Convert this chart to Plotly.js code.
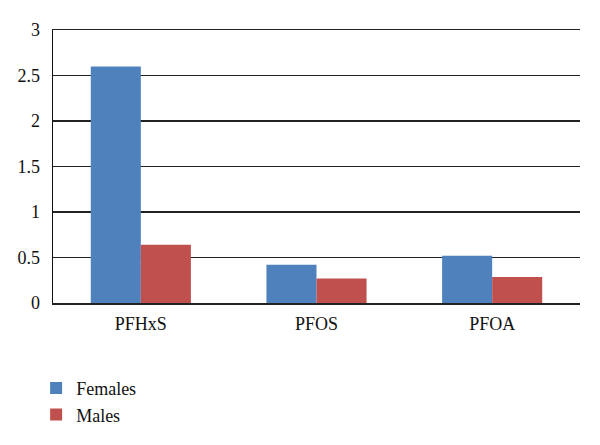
<!DOCTYPE html>
<html>
<head>
<meta charset="utf-8">
<script src="https://cdn.plot.ly/plotly-3.0.1.min.js"></script>
<style>
  body { margin: 0; background: #fff; }
  #chart { width: 600px; height: 445px; }
</style>
</head>
<body>
<div id="chart"></div>
<script>
// compounds on the x axis
const compounds = ["PFHxS", "PFOS", "PFOA"];

// values
const females = [2.60, 0.42, 0.52];
const males = [0.64, 0.27, 0.285];

const yTicks = [0, 0.5, 1, 1.5, 2, 2.5, 3];
const yTickText = ["0", "0.5", "1", "1.5", "2", "2.5", "3"];

const serif = "Liberation Serif, Times New Roman, serif";

let traces = [
    {
        type: "bar",
        name: "Females",
        x: compounds,
        y: females,
        marker: { color: "#4F81BD" }
    },
    {
        type: "bar",
        name: "Males",
        x: compounds,
        y: males,
        marker: { color: "#C0504D" }
    }
];

let layout = {
    width: 600,
    height: 445,
    margin: { l: 53, r: 20, t: 30, b: 138 },
    paper_bgcolor: "#fff",
    plot_bgcolor: "#fff",
    barmode: "group",
    bargap: 0.43,
    bargroupgap: 0,
    font: { family: serif, size: 17, color: "#111" },
    xaxis: {
        showline: true,
        mirror: true,   // top border stands in for the gridline at 3
        linecolor: "#222",
        linewidth: 1.5,
        ticks: "",
        ticklabelstandoff: 4,
        tickfont: { family: serif, size: 18, color: "#111" },
        showgrid: false
    },
    yaxis: {
        range: [0, 3],
        tickvals: yTicks,
        ticktext: yTickText,
        showline: true,
        linecolor: "#111",
        linewidth: 1.5,
        showgrid: true,
        gridcolor: "#222",
        gridwidth: 1.5,
        zeroline: false,
        ticks: "",
        ticklabelstandoff: 8,
        tickfont: { family: serif, size: 18, color: "#111" }
    },
    legend: {
        x: -0.032,
        xanchor: "left",
        y: -0.245,
        yanchor: "top",
        font: { family: serif, size: 18, color: "#111" },
        tracegroupgap: 0,
        itemwidth: 30
    },
    showlegend: true
};

Plotly.newPlot("chart", traces, layout, { displayModeBar: false, staticPlot: true });
</script>
</body>
</html>
